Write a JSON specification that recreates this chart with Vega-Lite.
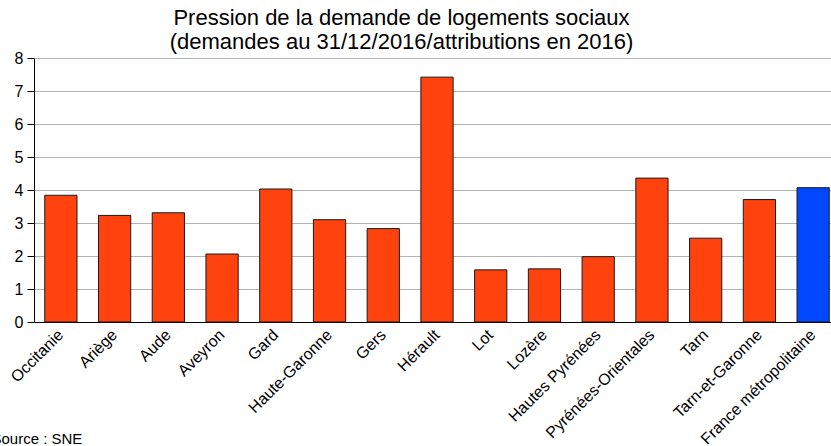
{
  "$schema": "https://vega.github.io/schema/vega-lite/v6.json",
  "autosize": {"type": "none"},
  "width": 797,
  "height": 264,
  "padding": {"left": 34, "top": 58, "right": 0, "bottom": 124},
  "background": "white",
  "config": {
    "font": "Liberation Sans",
    "view": {"stroke": null}
  },
  "title": {
    "text": ["Pression de la demande de logements sociaux", "(demandes au 31/12/2016/attributions en 2016)"],
    "fontSize": 22,
    "fontWeight": "normal",
    "color": "#000000",
    "anchor": "middle",
    "dx": -31,
    "offset": -4,
    "lineHeight": 24
  },
  "data": {
    "values": [
      {"territoire": "Occitanie", "pression": 3.84, "type": "region"},
      {"territoire": "Ariège", "pression": 3.23, "type": "region"},
      {"territoire": "Aude", "pression": 3.31, "type": "region"},
      {"territoire": "Aveyron", "pression": 2.06, "type": "region"},
      {"territoire": "Gard", "pression": 4.03, "type": "region"},
      {"territoire": "Haute-Garonne", "pression": 3.10, "type": "region"},
      {"territoire": "Gers", "pression": 2.83, "type": "region"},
      {"territoire": "Hérault", "pression": 7.42, "type": "region"},
      {"territoire": "Lot", "pression": 1.58, "type": "region"},
      {"territoire": "Lozère", "pression": 1.61, "type": "region"},
      {"territoire": "Hautes Pyrénées", "pression": 1.98, "type": "region"},
      {"territoire": "Pyrénées-Orientales", "pression": 4.36, "type": "region"},
      {"territoire": "Tarn", "pression": 2.54, "type": "region"},
      {"territoire": "Tarn-et-Garonne", "pression": 3.71, "type": "region"},
      {"territoire": "France métropolitaine", "pression": 4.07, "type": "france"}
    ]
  },
  "mark": {"type": "bar", "stroke": "#1a1a1a", "strokeWidth": 1},
  "encoding": {
    "x": {
      "field": "territoire",
      "type": "nominal",
      "sort": null,
      "scale": {"range": [0, 806], "paddingInner": 0.4, "paddingOuter": 0.2},
      "axis": {
        "title": "Source : SNE",
        "titleFontSize": 15,
        "titleFontWeight": "normal",
        "titleColor": "#000000",
        "titleAnchor": "start",
        "titleAlign": "left",
        "titleBaseline": "alphabetic",
        "titleX": -43,
        "titleY": 121,
        "labelAngle": -45,
        "labelAlign": "right",
        "labelBaseline": "middle",
        "labelFontSize": 16,
        "labelColor": "#000000",
        "labelPadding": 10,
        "labelOverlap": false,
        "labelLimit": 0,
        "ticks": false,
        "domainColor": "#000000",
        "domainWidth": 1
      }
    },
    "y": {
      "field": "pression",
      "type": "quantitative",
      "scale": {"domain": [0, 8], "nice": false},
      "axis": {
        "title": null,
        "values": [0, 1, 2, 3, 4, 5, 6, 7, 8],
        "labelFontSize": 16,
        "labelColor": "#000000",
        "labelPadding": 4,
        "tickSize": 7,
        "tickColor": "#000000",
        "domainColor": "#000000",
        "gridColor": "#b3b3b3",
        "gridWidth": 1
      }
    },
    "color": {
      "field": "type",
      "type": "nominal",
      "scale": {"domain": ["region", "france"], "range": ["#ff420e", "#0047ff"]},
      "legend": null
    }
  }
}
